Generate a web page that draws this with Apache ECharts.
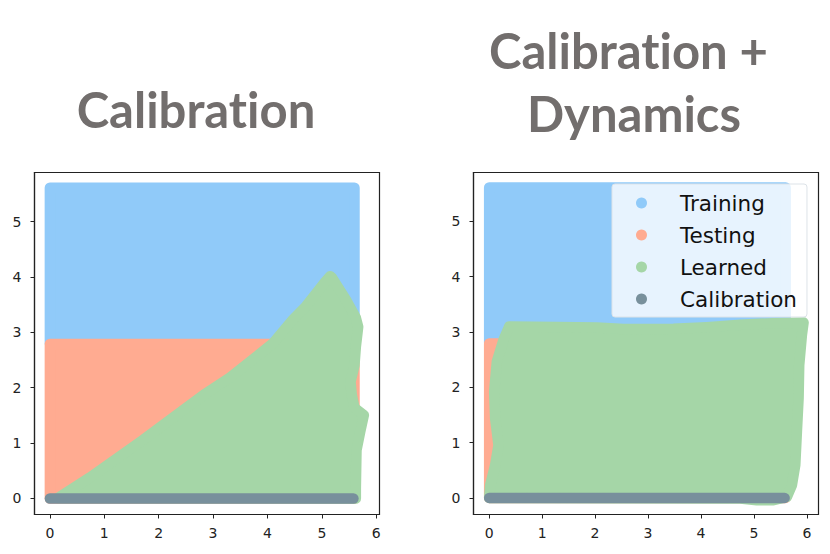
<!DOCTYPE html>
<html>
<head>
<meta charset="utf-8">
<style>
	html, body { margin: 0; padding: 0; background: #fff; }
	#main { width: 830px; height: 554px; }
	/* Lato 的 ti 连字和原图不一样 */
	#main text { font-variant-ligatures: none !important; font-feature-settings: "liga" 0 !important; }
</style>
<script src="https://cdn.jsdelivr.net/npm/echarts@6/dist/echarts.min.js"></script>
</head>
<body>
<div id="main"></div>
<script>
// 刻度
var xTicks = [0, 1, 2, 3, 4, 5, 6];
var yTicks = [0, 1, 2, 3, 4, 5];

// 每个区域的轮廓点 (数据坐标)
var trainingArea = [[0, 2.8], [5.6, 2.8], [5.6, 5.61], [0, 5.61]];
var testingArea = [[0, 0], [5.6, 0], [5.6, 2.79], [0, 2.79]];
var calibrationLine = [[0, 0], [5.58, 0]];

var learnedLeft = [
	[0.15, 0.01], [0.735, 0.379], [1.716, 1.059], [2.267, 1.462], [2.819, 1.865], [3.309, 2.184],
	[3.738, 2.515], [4.105, 2.804], [4.479, 3.243], [4.693, 3.454], [5.037, 3.881], [5.153, 4.013],
	[5.184, 3.989], [5.441, 3.592], [5.625, 3.261], [5.668, 3.099], [5.625, 2.738], [5.6, 2.407],
	[5.527, 2.106], [5.551, 1.865], [5.6, 1.637], [5.772, 1.504], [5.705, 1.203],
	[5.637, 0.872], [5.625, 0.18], [5.625, 0]
];
var learnedRight = [
	[0, 0], [0.019, 0.229], [0.113, 0.592], [0.176, 0.954], [0.113, 1.437], [0.094, 1.92],
	[0.145, 2.464], [0.271, 2.856], [0.378, 3.098], [1.278, 3.086], [2.034, 3.08],
	[2.538, 3.05], [3.482, 3.056], [4.112, 3.086], [4.742, 3.128], [5.371, 3.158],
	[5.938, 3.17], [5.907, 2.947], [5.856, 2.403], [5.844, 1.8], [5.812, 1.196],
	[5.781, 0.592], [5.718, 0.229], [5.623, 0.018], [5.371, -0.042], [5.056, -0.042],
	[4.742, -0.012]
];

var legendNames = ['Training', 'Testing', 'Learned', 'Calibration'];
var colors = ['#90caf9', '#ffab91', '#a5d6a7', '#78909c'];

// 原图是很多圆点叠成的，这里用同色粗描边做出圆角
function areaSeries(name, color, points, gridIndex, closed) {
	return {
		type: 'custom',
		name: name,
		xAxisIndex: gridIndex,
		yAxisIndex: gridIndex,
		coordinateSystem: 'cartesian2d',
		data: points,
		clip: false,
		silent: true,
		itemStyle: { color: color },
		renderItem: function (params, api) {
			if (params.dataIndex !== 0) return;
			var pts = points.map(function (p) { return api.coord(p); });
			return {
				type: closed ? 'polygon' : 'polyline',
				shape: { points: pts },
				style: {
					fill: closed ? color : 'none',
					stroke: color,
					lineWidth: 10.5,
					lineJoin: 'round',
					lineCap: 'round'
				}
			};
		}
	};
}

function xAxisFor(gridIndex, min, max) {
	return {
		type: 'value',
		gridIndex: gridIndex,
		min: min,
		max: max,
		splitLine: { show: false },
		axisLine: { onZero: false, lineStyle: { color: '#222', width: 1.2 } },
		axisTick: { length: 4, customValues: xTicks, lineStyle: { color: '#222' } },
		axisLabel: { customValues: xTicks, color: '#222', fontSize: 14, margin: 11, fontFamily: 'DejaVu Sans' }
	};
}

function yAxisFor(gridIndex, min, max) {
	return {
		type: 'value',
		gridIndex: gridIndex,
		min: min,
		max: max,
		splitLine: { show: false },
		axisLine: { onZero: false, lineStyle: { color: '#222', width: 1.2 } },
		axisTick: { length: 4, customValues: yTicks, lineStyle: { color: '#222' } },
		axisLabel: { customValues: yTicks, color: '#222', fontSize: 14, margin: 13, fontFamily: 'DejaVu Sans' }
	};
}

var myChart = echarts.init(document.getElementById('main'), null, { renderer: 'svg' });

var titleStyle = { color: '#726e6d', fontSize: 49, fontWeight: 'bold', fontFamily: 'Lato' };

var option = {
	animation: false,
	backgroundColor: '#fff',
	title: [
		{ text: 'Calibration', left: 196, top: 84, padding: 0, textAlign: 'center', textStyle: titleStyle },
		{ text: 'Calibration +', left: 628.5, top: 25, padding: 0, textAlign: 'center', textStyle: titleStyle },
		{ text: 'Dynamics', left: 634, top: 88, padding: 0, textAlign: 'center', textStyle: titleStyle }
	],
	grid: [
		{ left: 34.5, top: 172.5, width: 345, height: 342, show: true, borderColor: '#222', borderWidth: 1.2, backgroundColor: '#fff' },
		{ left: 473.5, top: 172.5, width: 345, height: 342, show: true, borderColor: '#222', borderWidth: 1.2, backgroundColor: '#fff' }
	],
	xAxis: [xAxisFor(0, -0.283, 6.06), xAxisFor(1, -0.296, 6.22)],
	yAxis: [yAxisFor(0, -0.289, 5.885), yAxisFor(1, -0.3, 5.88)],
	legend: {
		data: legendNames,
		left: 612,
		top: 184,
		orient: 'vertical',
		icon: 'circle',
		itemWidth: 11,
		itemHeight: 11,
		itemGap: 10,
		padding: [8, 10, 7, 24],
		backgroundColor: 'rgba(255,255,255,0.78)',
		borderColor: '#dde3e8',
		borderWidth: 1,
		borderRadius: 3,
		selectedMode: false,
		textStyle: { color: '#111', fontSize: 21.5, fontFamily: 'DejaVu Sans', padding: [0, 0, 0, 28] }
	},
	series: [
		areaSeries('Training', colors[0], trainingArea, 0, true),
		areaSeries('Testing', colors[1], testingArea, 0, true),
		areaSeries('Learned', colors[2], learnedLeft, 0, true),
		areaSeries('Calibration', colors[3], calibrationLine, 0, false),
		areaSeries('Training', colors[0], trainingArea, 1, true),
		areaSeries('Testing', colors[1], testingArea, 1, true),
		areaSeries('Learned', colors[2], learnedRight, 1, true),
		areaSeries('Calibration', colors[3], calibrationLine, 1, false)
	]
};

myChart.setOption(option);
</script>
</body>
</html>
